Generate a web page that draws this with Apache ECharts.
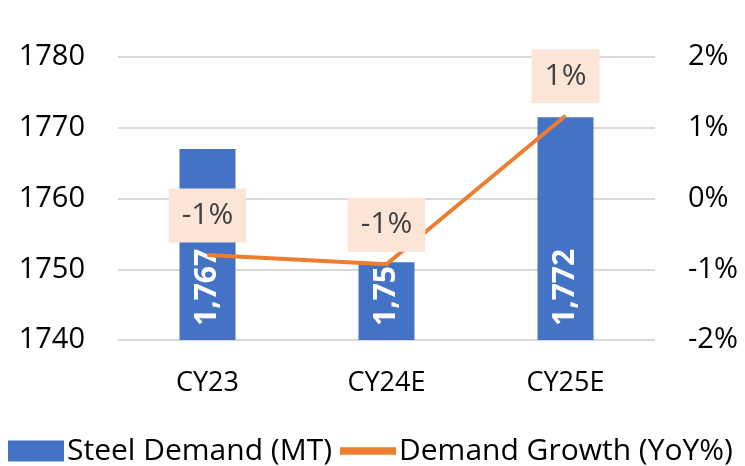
<!DOCTYPE html>
<html>
<head>
<meta charset="utf-8">
<script src="https://cdn.jsdelivr.net/npm/echarts@6/dist/echarts.min.js"></script>
<style>
  html, body { margin: 0; padding: 0; background: #fff; }
  #main { width: 745px; height: 466px; }
</style>
</head>
<body>
<div id="main"></div>
<script>
var categories = ['CY23', 'CY24E', 'CY25E'];
var steelDemand = [1767, 1751, 1771.5];
var demandGrowth = [-0.8, -0.93, 1.17];
var leftTicks = {min: 1740, max: 1780, interval: 10};
var rightTicks = {min: -2, max: 2, interval: 1};

var FONT = '"Open Sans", "Noto Sans", sans-serif';

var chart = echarts.init(document.getElementById('main'));
var option = {
    animation: false,
    textStyle: {fontFamily: FONT},
    grid: {left: 118, right: 90, top: 57, bottom: 126},
    legend: {
        left: 8,
        top: 436,
        padding: 0,
        itemGap: 8,
        itemWidth: 56,
        itemHeight: 21,
        textStyle: {fontSize: 30, color: '#000', fontFamily: FONT, padding: [0, 0, 0, -2]},
        data: [
            {name: 'Steel Demand (MT)', icon: 'rect'},
            {name: 'Demand Growth (YoY%)', icon: 'path://M0,0 L46,0 L46,6 L0,6 Z'}
        ]
    },
    xAxis: {
        type: 'category',
        data: categories,
        axisLine: {show: false},
        axisTick: {show: false},
        axisLabel: {fontSize: 27, color: '#000', margin: 30}
    },
    yAxis: [
        {
            type: 'value',
            min: leftTicks.min, max: leftTicks.max, interval: leftTicks.interval,
            axisLabel: {
                fontSize: 29, color: '#000', margin: 33,
                formatter: function (v) { return String(v); }
            },
            splitLine: {lineStyle: {color: '#d9d9d9', width: 2}}
        },
        {
            type: 'value',
            min: rightTicks.min, max: rightTicks.max, interval: rightTicks.interval,
            axisLabel: {fontSize: 29, color: '#000', margin: 33, formatter: '{value}%'},
            splitLine: {show: false}
        }
    ],
    series: [
        {
            name: 'Steel Demand (MT)',
            type: 'bar',
            barWidth: 56,
            itemStyle: {color: '#4472C4'},
            label: {
                show: true,
                position: 'insideBottom',
                rotate: 90,
                align: 'left',
                verticalAlign: 'middle',
                distance: 14,
                color: '#fff',
                fontWeight: 'bold',
                fontSize: 30,
                formatter: function (p) {
                    return Math.round(p.value).toLocaleString('en-US');
                }
            },
            data: steelDemand
        },
        {
            name: 'Demand Growth (YoY%)',
            type: 'line',
            yAxisIndex: 1,
            symbol: 'circle',
            symbolSize: 1,
            showSymbol: true,
            lineStyle: {color: '#ED7D31', width: 4},
            itemStyle: {color: '#ED7D31'},
            label: {
                show: true,
                position: 'top',
                distance: 12,
                fontSize: 30,
                color: '#404040',
                backgroundColor: '#FBE5D6',
                padding: [12, 13, 12, 13],
                formatter: function (p) {
                    return Math.round(p.value) + '%';
                }
            },
            z: 3,
            data: demandGrowth
        }
    ]
};
chart.setOption(option);
</script>
</body>
</html>
